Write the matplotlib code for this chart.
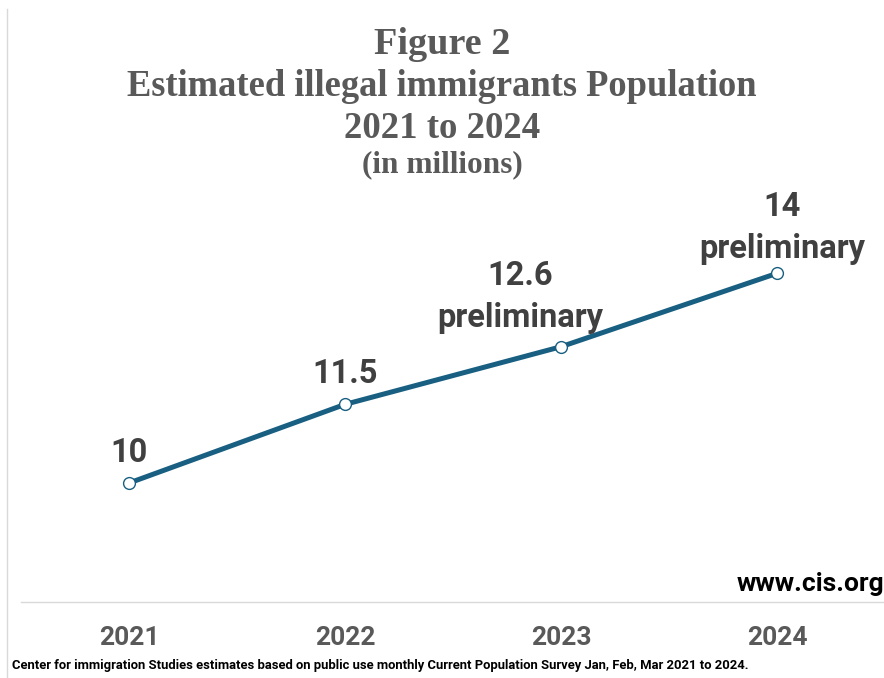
import matplotlib
matplotlib.use("Agg")
import matplotlib.pyplot as plt
from matplotlib.lines import Line2D

years = ["2021", "2022", "2023", "2024"]
values = [10, 11.5, 12.6, 14]
labels = ["10", "11.5", "12.6\npreliminary", "14\npreliminary"]

title_lines = ["Figure 2", "Estimated illegal immigrants Population", "2021 to 2024", "(in millions)"]
footer = "Center for immigration Studies estimates based on public use monthly Current Population Survey Jan, Feb, Mar 2021 to 2024."
site = "www.cis.org"

W, H = 884, 678
fig = plt.figure(figsize=(W / 100, H / 100), dpi=100)

def fx(px):
    return px / W

def fy(py):
    return 1 - py / H

sans = ["Roboto", "DejaVu Sans"]
serif = ["Liberation Serif", "DejaVu Serif"]

ax = fig.add_axes([fx(21), fy(602), fx(864), (602 - 190) / H])
x = list(range(len(years)))
line_color = "#185f82"
ax.plot(x, values, color=line_color, lw=3.6, marker="o", ms=8.5,
        mfc="white", mec=line_color, mew=1.0, solid_capstyle="round", zorder=3)
ax.set_xlim(-0.5, len(years) - 0.5)
ax.set_ylim(7.73, 15.59)
ax.set_xticks(x)
ax.set_xticklabels(years, family=sans, fontweight="bold", fontsize=19, color="#595959")
ax.tick_params(axis="x", length=0, pad=17)
ax.set_yticks([])
for s in ["left", "right", "top"]:
    ax.spines[s].set_visible(False)
ax.spines["bottom"].set_color("#d9d9d9")
ax.spines["bottom"].set_linewidth(1.0)

offsets = [(0, 21.6), (0, 21.6), (-29.5, 36), (3.6, 33)]
for xi, v, lab, off in zip(x, values, labels, offsets):
    ax.annotate(lab, (xi, v), xytext=off, textcoords="offset points",
                ha="center", va="center", family=sans, fontweight="bold",
                fontsize=23.5, color="#404040", linespacing=1.4)

# title
title_sizes = [27.5, 26.3, 26.5, 22.5]
title_base = [54, 96, 138, 172]
for t, s, b in zip(title_lines, title_sizes, title_base):
    fig.text(0.5, fy(b), t, ha="center", va="baseline", family=serif,
             fontweight="bold", fontsize=s, color="#595959")

fig.text(fx(884), fy(584), site, ha="right", va="center", family=sans,
         fontweight="bold", fontsize=19, color="black")
fig.text(fx(12), fy(666), footer, ha="left", va="center", family=sans,
         fontweight="bold", fontsize=9.4, color="black")

# left border line
fig.add_artist(Line2D([fx(7.5), fx(7.5)], [fy(9), 0], color="#d9d9d9", lw=1.0))

fig.savefig("out.png", dpi=100, facecolor="white")
